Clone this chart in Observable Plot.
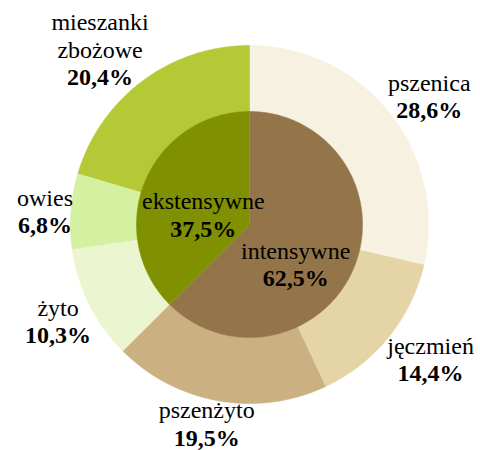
<!DOCTYPE html>
<html><head><meta charset="utf-8">
<script src="https://cdn.jsdelivr.net/npm/d3@7"></script>
<script src="https://cdn.jsdelivr.net/npm/@observablehq/plot@0.6"></script>
<style>
body{margin:0;background:#fff}
#chart svg text{font-family:"Liberation Serif","Times New Roman",serif !important;}
</style>
</head><body><div id="chart"></div>
<script>
// ---- data ----
const innerCategories = ["intensywne", "ekstensywne"];
const innerValues = [62.5, 37.5];
const innerColors = ["#937549", "#7F9000"];
const outerCategories = ["pszenica", "jęczmień", "pszenżyto", "żyto", "owies", "mieszanki\nzbożowe"];
const outerValues = [28.6, 14.4, 19.5, 10.3, 6.8, 20.4];
const outerColors = ["#F6F1E1", "#E5D4A6", "#CBB182", "#EBF5CF", "#D3F1A1", "#B4C935"];

// ---- layout ----
const W = 480, H = 450;
const CX = 249, CY = 224;
const R_OUT = 179, R_IN = 113;
const FONT = "Liberation Serif";
const FS = 24, LH = 27.5, ASC = 0.71 * FS;
const TAU = 2 * Math.PI;

const fmt = v => v.toFixed(1).replace(".", ",") + "%";

function slices(values) {
  const total = d3.sum(values);
  let acc = 0;
  return values.map(v => {
    const a0 = acc / total * TAU; acc += v;
    const a1 = acc / total * TAU;
    return {a0, a1, mid: (a0 + a1) / 2};
  });
}
function arc(r, a0, a1) {
  const n = Math.max(2, Math.ceil(Math.abs(a1 - a0) / (Math.PI / 360)) + 1);
  return d3.range(n).map(k => {
    const a = a0 + (a1 - a0) * k / (n - 1);
    return [r * Math.sin(a), r * Math.cos(a)];
  });
}

const outerS = slices(outerValues);
const innerS = slices(innerValues);

const shapes = [];
outerCategories.forEach((name, i) => {
  const s = outerS[i];
  const pts = [...arc(R_OUT, s.a0, s.a1), ...arc(R_IN, s.a1, s.a0)];
  pts.forEach(([x, y]) => shapes.push({key: "o" + i, x, y, color: outerColors[i]}));
});
innerCategories.forEach((name, i) => {
  const s = innerS[i];
  const pts = [[0, 0], ...arc(R_IN, s.a0, s.a1)];
  pts.forEach(([x, y]) => shapes.push({key: "i" + i, x, y, color: innerColors[i]}));
});

const ctx = document.createElement("canvas").getContext("2d");
function tw(s, bold) { ctx.font = `${bold ? "bold " : ""}${FS}px "${FONT}"`; return ctx.measureText(s).width; }
const clamp = v => Math.max(-1, Math.min(1, v));

// outer labels: text box placed just outside the ring, at the slice's mid angle
const labels = outerCategories.map((name, i) => {
  const s = outerS[i];
  const lines = name.split("\n"), n = lines.length;
  const pct = fmt(outerValues[i]);
  const w = Math.max(...lines.map(l => tw(l, false)), tw(pct, true));
  const h = LH * n + ASC;
  const sx = Math.sin(s.mid), sy = Math.cos(s.mid);
  const R = R_OUT - 2;
  const cx = R * sx + w / 2 * clamp(1.5 * sx);
  const cy = R * sy + h / 2 * clamp(1.5 * sy);
  const top = cy + h / 2;
  return {name, pct, x: cx, y: top, py: top - LH * n};
});
// inner labels: inside the inner pie, along the slice's mid angle
innerCategories.forEach((name, i) => {
  const s = innerS[i];
  const cx = 50 * Math.sin(s.mid), by = 65 * Math.cos(s.mid) - 7; // first baseline
  const top = by + ASC;
  labels.push({name, pct: fmt(innerValues[i]), x: cx, y: top, py: top - LH});
});

const textOpts = {fontFamily: FONT, fontSize: FS, fill: "black", textAnchor: "middle", lineAnchor: "top", lineHeight: LH / FS};

const chart = Plot.plot({
  width: W, height: H, margin: 0,
  x: {domain: [-CX, W - CX], axis: null},
  y: {domain: [CY - H, CY], axis: null},
  color: {type: "identity"},
  style: {background: "white", fontFamily: FONT},
  marks: [
    Plot.line(shapes, {x: "x", y: "y", z: "key", fill: "color", stroke: "color", strokeWidth: 0.6, curve: "linear"}),
    Plot.text(labels, {x: "x", y: "y", text: "name", ...textOpts}),
    Plot.text(labels, {x: "x", y: "py", text: "pct", fontWeight: "bold", ...textOpts})
  ]
});
document.getElementById("chart").appendChild(chart);
</script>
</body></html>
